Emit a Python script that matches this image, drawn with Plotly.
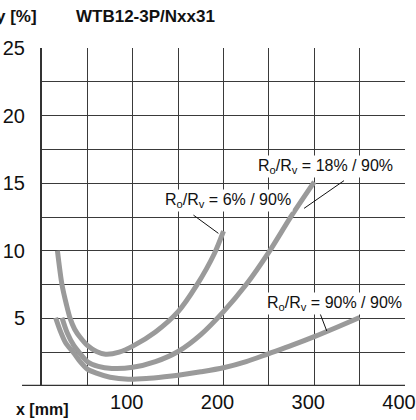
import plotly.graph_objects as go

# Curve: Ro/Rv = 6% / 90%
a_x = [17, 22, 27, 31, 36, 42, 50, 60, 70, 85, 100, 125, 150, 170, 190, 200]
a_y = [10, 7.5, 6.0, 5.0, 4.2, 3.6, 3.0, 2.55, 2.35, 2.5, 2.95, 4.0, 5.5, 7.4, 9.8, 11.45]

# Curve: Ro/Rv = 18% / 90%
b_x = [22, 28, 35, 42, 50, 62, 77, 100, 125, 150, 175, 200, 225, 250, 275, 300]
b_y = [5.05, 3.9, 3.0, 2.4, 1.8, 1.45, 1.3, 1.38, 1.8, 2.55, 3.8, 5.5, 7.5, 9.9, 12.6, 15.1]

# Curve: Ro/Rv = 90% / 90%
c_x = [15, 20, 26, 35, 42, 50, 60, 75, 95, 115, 135, 150, 175, 200, 225, 250, 275, 300, 325, 350]
c_y = [5.05, 4.1, 3.2, 2.45, 1.8, 1.25, 0.95, 0.65, 0.5, 0.55, 0.68, 0.8, 1.05, 1.35, 1.8, 2.4, 3.0, 3.65, 4.35, 5.07]

x_ticks = [0, 50, 100, 150, 200, 250, 300, 350, 400]
x_labels = ["", "", "100", "", "200", "", "300", "", "400"]
y_ticks = [0, 2.5, 5, 7.5, 10, 12.5, 15, 17.5, 20, 22.5, 25]
y_labels = ["", "", "5", "", "10", "", "15", "", "20", "", "25"]

labels = ["R<sub>o</sub>/R<sub>v</sub> = 6% / 90%",
          "R<sub>o</sub>/R<sub>v</sub> = 18% / 90%",
          "R<sub>o</sub>/R<sub>v</sub> = 90% / 90%"]

FONT = "Liberation Sans"
CURVE = "#9a9a9a"
GRID = "#3a3a3a"

fig = go.Figure()
for xs, ys in [(a_x, a_y), (b_x, b_y), (c_x, c_y)]:
    fig.add_trace(go.Scatter(x=xs, y=ys, mode="lines",
                             line=dict(color=CURVE, width=5, shape="spline", smoothing=0.8),
                             hoverinfo="skip", showlegend=False))

fig.update_layout(
    width=416, height=420,
    margin=dict(l=42, r=11, t=48, b=34, autoexpand=False),
    paper_bgcolor="white", plot_bgcolor="white",
    font=dict(family=FONT, color="#111"),
    showlegend=False,
    xaxis=dict(range=[0, 400], tickvals=x_ticks, ticktext=x_labels,
               showgrid=True, gridcolor=GRID, gridwidth=1, automargin=False,
               zeroline=False, showline=False, ticks="",
               tickfont=dict(size=20, family=FONT, color="#111"),
               ticklabelshift=-6, ticklabelstandoff=2),
    yaxis=dict(range=[0, 25], tickvals=y_ticks, ticktext=y_labels,
               showgrid=True, gridcolor=GRID, gridwidth=1, automargin=False,
               zeroline=False, showline=True, linecolor="#333", linewidth=2,
               ticks="", tickfont=dict(size=20, family=FONT, color="#111"),
               ticklabelstandoff=11),
)

# bottom axis line extending left
fig.add_shape(type="line", xref="paper", yref="y", x0=-0.055, x1=1.0, y0=0, y1=0,
              line=dict(color="#333", width=2.5), layer="above")

# leader lines
leaders = [((166.9, 12.64), (194.4, 11.29)),
           ((332.8, 15.19), (288.8, 13.14)),
           ((306.4, 5.36), (313.8, 4.07))]
for (x0, y0), (x1, y1) in leaders:
    fig.add_shape(type="line", xref="x", yref="y", x0=x0, y0=y0, x1=x1, y1=y1,
                  line=dict(color="#111", width=1), layer="above")

label_pos = [(205, 13.7), (312, 16.27), (322.6, 6.1)]
for (lx, ly), txt in zip(label_pos, labels):
    fig.add_annotation(x=lx, y=ly, xref="x", yref="y", text=txt, showarrow=False,
                       font=dict(size=16, family=FONT, color="#111"),
                       bgcolor="white", borderpad=1, xanchor="center", yanchor="middle")

fig.add_annotation(x=0.284, y=1.092, xref="paper", yref="paper", text="<b>WTB12-3P/Nxx31</b>",
                   showarrow=False, font=dict(size=17, family=FONT, color="#111"),
                   xanchor="center", yanchor="middle")
fig.add_annotation(x=-0.008, y=1.092, xref="paper", yref="paper", text="<b>y [%]</b>",
                   showarrow=False, font=dict(size=17, family=FONT, color="#111"),
                   xanchor="right", yanchor="middle")
fig.add_annotation(x=0.0, y=-0.071, xref="paper", yref="paper", text="<b>x [mm]</b>",
                   showarrow=False, font=dict(size=16, family=FONT, color="#111"),
                   xanchor="center", yanchor="middle")

fig.write_html("out.html", config={"displayModeBar": False},
               post_script="document.body.style.margin='0';")
